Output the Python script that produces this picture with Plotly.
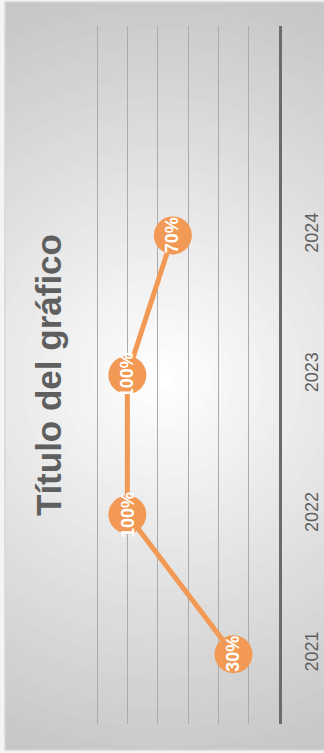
import plotly.graph_objects as go

# Chart data
years = ["2021", "2022", "2023", "2024"]
values = [30, 100, 100, 70]          # percent
value_ticks = [0, 20, 40, 60, 80, 100, 120]
title_text = "Título del gráfico"

ORANGE = "#F29A55"
GREY_TEXT = "#5f5f5f"
FONT = "Liberation Sans"

# Figure geometry (pixels)
FIG_W, FIG_H = 324, 753
L, R, T, B = 94, 279, 26, 724
W, H = R - L, B - T


def px_x(p):
    return (p - L) / W


def px_y(p):
    return (B - p) / H


y_pos = list(range(len(years)))

fig = go.Figure()
fig.add_trace(go.Scatter(
    x=values, y=y_pos, mode="lines+markers",
    line=dict(color=ORANGE, width=5),
    marker=dict(size=38, color=ORANGE),
    hoverinfo="skip", showlegend=False,
))

# Background: white page, grey panel with soft radial fade toward its centre
shapes = [dict(type="rect", xref="paper", yref="paper",
               x0=px_x(5), x1=px_x(FIG_W + 5), y0=px_y(750), y1=px_y(2),
               fillcolor="#c7c7c7", line=dict(width=0), layer="below")]
cx, cy = 162, 378
steps = 40
r_max = 400
for i in range(steps):
    r = r_max * (1 - i / steps)
    t = i / (steps - 1)
    c = int(199 + (255 - 199) * t)
    shapes.append(dict(type="circle", xref="paper", yref="paper",
                       x0=px_x(cx - r), x1=px_x(cx + r),
                       y0=px_y(cy + r), y1=px_y(cy - r),
                       fillcolor=f"rgb({c},{c},{c})", line=dict(width=0),
                       layer="below"))
# page margin strips and panel border
shapes.append(dict(type="rect", xref="paper", yref="paper",
                   x0=px_x(-5), x1=px_x(5), y0=px_y(FIG_H + 5), y1=px_y(-5),
                   fillcolor="#f4f4f4", line=dict(width=0), layer="below"))
shapes.append(dict(type="rect", xref="paper", yref="paper",
                   x0=px_x(-5), x1=px_x(FIG_W + 5), y0=px_y(2), y1=px_y(-5),
                   fillcolor="#f4f4f4", line=dict(width=0), layer="below"))
shapes.append(dict(type="rect", xref="paper", yref="paper",
                   x0=px_x(-5), x1=px_x(FIG_W + 5), y0=px_y(FIG_H + 5), y1=px_y(750),
                   fillcolor="#f4f4f4", line=dict(width=0), layer="below"))
shapes.append(dict(type="rect", xref="paper", yref="paper",
                   x0=px_x(5), x1=px_x(FIG_W + 5), y0=px_y(750), y1=px_y(2),
                   fillcolor="rgba(0,0,0,0)", line=dict(color="#d6d6d6", width=1.5),
                   layer="below"))

annotations = [
    dict(text=f"<b>{v}%</b>", x=v, y=yi, xref="x", yref="y",
         showarrow=False, textangle=-90,
         font=dict(family=FONT, size=18, color="white"))
    for v, yi in zip(values, y_pos)
]
annotations.append(dict(
    text=f"<b>{title_text}</b>", x=px_x(48), y=px_y(375),
    xref="paper", yref="paper", showarrow=False, textangle=-90,
    xanchor="center", yanchor="middle",
    font=dict(family=FONT, size=35, color=GREY_TEXT),
))

fig.update_layout(
    width=FIG_W, height=FIG_H,
    margin=dict(l=L, r=FIG_W - R, t=T, b=FIG_H - B, pad=0, autoexpand=False),
    paper_bgcolor="white", plot_bgcolor="rgba(0,0,0,0)",
    shapes=shapes, annotations=annotations,
    font=dict(family=FONT),
    xaxis=dict(range=[122, 0], tickvals=value_ticks, showticklabels=False,
               showgrid=True, gridcolor="#ababab", gridwidth=1.3,
               zeroline=False, showline=False, fixedrange=True,
               automargin=False),
    yaxis=dict(range=[-0.5, 4.5], tickvals=y_pos, ticktext=years,
               side="right", showgrid=False, zeroline=False,
               showline=True, linecolor="#6b6b6b", linewidth=3,
               ticks="", tickangle=-90, ticklabelstandoff=14,
               tickfont=dict(family=FONT, size=18, color=GREY_TEXT),
               fixedrange=True, automargin=False),
)

fig.write_html("out.html")
